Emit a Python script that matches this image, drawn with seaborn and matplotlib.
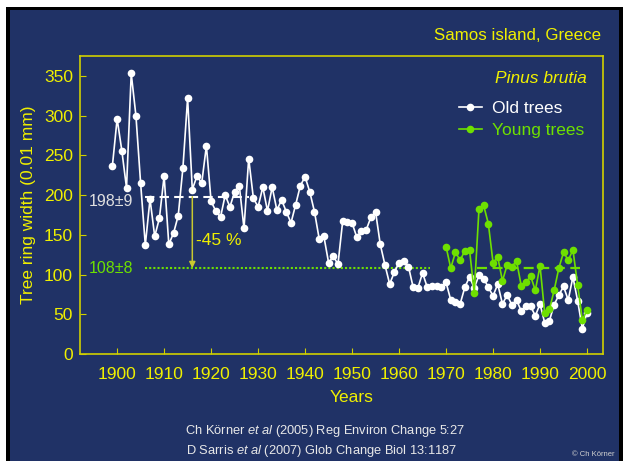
import seaborn as sns
import numpy as np
import pandas as pd
import matplotlib.pyplot as plt
from matplotlib.patches import Rectangle

# data
years_old = list(range(1899, 2001))
old_trees = [237, 296, 256, 209, 353, 300, 215, 137, 195, 148,
             171, 224, 138, 152, 174, 234, 322, 207, 224, 215,
             262, 192, 180, 172, 200, 185, 204, 212, 158, 246,
             196, 185, 210, 180, 210, 181, 194, 179, 165, 188,
             212, 223, 204, 179, 145, 148, 115, 123, 113, 167,
             166, 165, 147, 155, 156, 172, 179, 138, 112, 88,
             103, 115, 117, 110, 84, 83, 102, 84, 86, 86,
             84, 90, 68, 65, 63, 84, 97, 83, 99, 95,
             84, 73, 88, 63, 74, 62, 68, 54, 61, 60,
             48, 63, 39, 42, 62, 74, 85, 68, 97, 67,
             32, 52]
years_young = list(range(1970, 2001))
young_trees = [135, 108, 128, 118, 130, 131, 77, 182, 187, 164,
               115, 122, 92, 112, 110, 117, 86, 90, 98, 80,
               111, 51, 56, 80, 108, 128, 118, 131, 87, 43,
               55]

old_mean, old_span = 198, (1906, 1928)
young_mean, young_span_old, young_span_new = 108, (1906, 1966.5), (1976.6, 1998.5)

bg = "#203266"
yellow = "#f0f000"
green = "#6ee000"

plt.rcParams['font.family'] = ['Liberation Sans', 'DejaVu Sans']
plt.rcParams['mathtext.fontset'] = 'custom'
plt.rcParams['mathtext.rm'] = 'Liberation Sans'
plt.rcParams['mathtext.it'] = 'Liberation Sans:italic'

fig = plt.figure(figsize=(6.23, 4.61), dpi=100, facecolor="white")
fig.patches.append(Rectangle((6/623, 0), 617/623, 454/461, transform=fig.transFigure,
                             facecolor="black", edgecolor="none", zorder=-2))
fig.patches.append(Rectangle((10/623, 0), 609/623, 451/461, transform=fig.transFigure,
                             facecolor=bg, edgecolor="none", zorder=-1))

ax = fig.add_axes([80/623, 107/461, 523/623, 298/461])
ax.set_facecolor(bg)

# reference lines
ax.plot(old_span, [old_mean, old_mean], color="white", lw=1.5, dashes=(4.5, 2.5), zorder=1)
ax.plot(young_span_old, [young_mean, young_mean], color=green, lw=1.5, ls=(0, (1, 1)), zorder=1)
ax.plot(young_span_new, [young_mean, young_mean], color=green, lw=1.6, dashes=(4.5, 2.5), zorder=1)

sns.lineplot(x=years_old, y=old_trees, color="white", marker="o", markersize=5.5,
             markeredgewidth=0, linewidth=1.2, ax=ax, label="Old trees", zorder=3)
sns.lineplot(x=years_young, y=young_trees, color=green, marker="o", markersize=5.5,
             markeredgewidth=0, linewidth=1.2, ax=ax, label="Young trees", zorder=4)

# -45 % arrow
ax.annotate("", xy=(1916, young_mean), xytext=(1916, old_mean),
            arrowprops=dict(arrowstyle="-|>", color="#c8c830", lw=1.1,
                            mutation_scale=9, shrinkA=0, shrinkB=0), zorder=2)
ax.text(1916.7, 143, "-45 %", color=yellow, fontsize=12.5, ha="left", va="center")
ax.text(1903.4, 192, "198\u00b19", color="#e0e0e0", fontsize=11.5, ha="right", va="center")
ax.text(1903.4, 107, "108\u00b18", color=green, fontsize=11.5, ha="right", va="center")

ax.set_xlim(1892.1, 2003.4)
ax.set_ylim(0, 375)
ax.set_xticks(range(1900, 2001, 10))
ax.set_yticks(range(0, 351, 50))
for s in ax.spines.values():
    s.set_color("#d0d000")
    s.set_linewidth(1.2)
ax.tick_params(direction="in", length=4, color="#d0d000", labelcolor=yellow, labelsize=12.5)
ax.tick_params(axis="x", pad=9)
ax.tick_params(axis="y", pad=5)

ax.set_xlabel("Years", color=yellow, fontsize=12.5)
ax.xaxis.set_label_coords(0.52, -0.12)
ax.set_ylabel("Tree ring width (0.01 mm)", color=yellow, fontsize=12.5, labelpad=6)

leg = ax.legend(loc="upper left", bbox_to_anchor=(0.725, 0.85), frameon=False,
                fontsize=12.5, handlelength=1.3, handletextpad=0.6, labelspacing=0.42,
                borderpad=0, borderaxespad=0, labelcolor="linecolor")
ax.text(0.968, 0.925, "Pinus brutia", transform=ax.transAxes, color=yellow,
        fontsize=12.5, style="italic", ha="right", va="center")

fig.text(601/623, (461-35)/461, "Samos island, Greece", color=yellow, fontsize=12.2,
         ha="right", va="center")
fig.text(325/623, (461-431)/461, r"Ch Körner $\it{et\ al}$ (2005) Reg Environ Change 5:27",
         color="#e8e8e8", fontsize=9.3, ha="center", va="center")
fig.text(322/623, (461-451)/461, r"D Sarris $\it{et\ al}$ (2007) Glob Change Biol 13:1187",
         color="#e8e8e8", fontsize=9.3, ha="center", va="center")
fig.text(615/623, 3/461, "\u00a9 Ch Körner", color="#d0d0d0", fontsize=5.5,
         ha="right", va="bottom")

fig.savefig("out.png", dpi=100, facecolor=fig.get_facecolor())
